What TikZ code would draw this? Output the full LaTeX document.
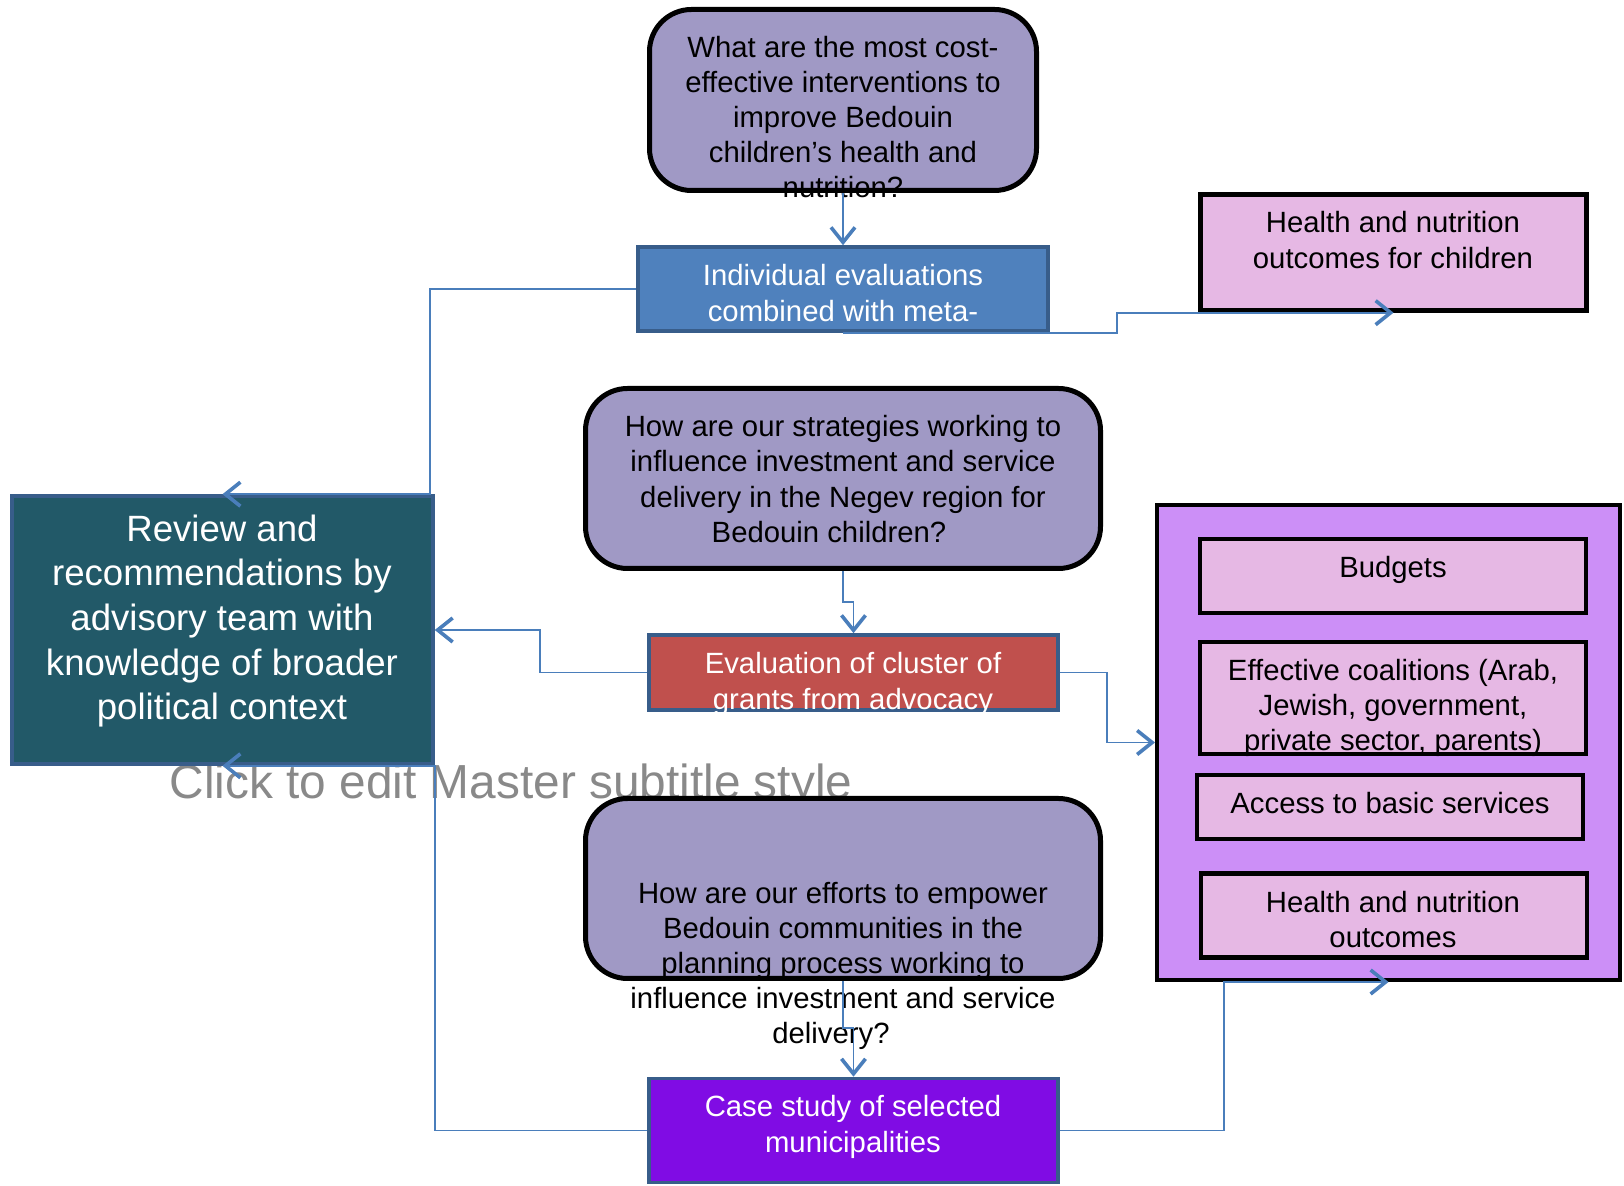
\documentclass[tikz,border=0pt]{standalone}
\usepackage{fontspec}
\setmainfont{Liberation Sans}
\usetikzlibrary{arrows.meta}

\definecolor{qfill}{RGB}{160,153,197}
\definecolor{pinkfill}{RGB}{230,184,228}
\definecolor{bigfill}{RGB}{204,143,247}
\definecolor{indivfill}{RGB}{79,129,189}
\definecolor{evalfill}{RGB}{192,80,77}
\definecolor{casefill}{RGB}{128,12,228}
\definecolor{reviewfill}{RGB}{34,89,104}
\definecolor{edgeblue}{RGB}{56,93,138}
\definecolor{connblue}{RGB}{74,126,187}
\definecolor{mastergray}{RGB}{137,137,137}

\newcommand{\boxfont}{\fontsize{14.65pt}{17.6pt}\selectfont}
\newcommand{\reviewfont}{\fontsize{18.3pt}{22.35pt}\selectfont}
\newcommand{\masterfont}{\fontsize{23.9pt}{28pt}\selectfont}

\begin{document}
\begin{tikzpicture}[x=0.5pt,y=-0.5pt,
    qbox/.style={draw=black, line width=2.5pt, rounded corners=21pt, fill=qfill,
      inner sep=0pt, minimum width=257.5pt, minimum height=90pt},
    pbox/.style={draw=black, line width=2.2pt, fill=pinkfill, inner sep=0pt,
      minimum width=193pt},
    bbox/.style={draw=edgeblue, line width=1.8pt, inner sep=0pt,
      minimum width=204.5pt},
    txt/.style={align=center, font=\boxfont, inner sep=0pt},
    wtxt/.style={txt, text=white},
    conn/.style={draw=connblue, line width=0.9pt,
      -{Straight Barb[length=7.5pt,width=12pt,line width=1.8pt]}}]
  \useasboundingbox (0,0) rectangle (1624,1186);

  % placeholder text, behind everything
  \node[text=mastergray, font=\masterfont, inner sep=0pt] (master) at (511,786)
    {Click to edit Master subtitle style};

  % left column
  \node[bbox, fill=reviewfill, minimum width=210.5pt, minimum height=134pt]
    (review) at (222.5,630) {};

  % middle column
  \node[qbox, minimum width=193.5pt, minimum height=90.5pt] (q1) at (843,100) {};
  \node[bbox, fill=indivfill, minimum width=205pt, minimum height=42pt]
    (indiv) at (843,289) {};
  \node[qbox] (q2) at (843,478.5) {};
  \node[bbox, fill=evalfill, minimum height=37.5pt] (eval) at (853.5,672.5) {};
  \node[qbox] (q3) at (843,888.5) {};
  \node[bbox, fill=casefill, minimum height=52pt] (case) at (853.5,1130.5) {};

  % right column
  \node[pbox, minimum height=58pt] (htop) at (1393.5,252.5) {};
  \node[draw=black, line width=2pt, fill=bigfill, inner sep=0pt,
    minimum width=231.5pt, minimum height=237.5pt] (big) at (1388.5,742.5) {};
  \node[pbox, minimum height=37pt] (budgets) at (1393,576) {};
  \node[pbox, minimum height=56pt] (coal) at (1393,698) {};
  \node[pbox, minimum height=32pt] (access) at (1390,807) {};
  \node[pbox, minimum height=42pt] (hout) at (1394,915.5) {};

  % texts
  \node[txt] (q1t) at (843,117) {What are the most cost-\\effective interventions to\\improve Bedouin\\children’s health and\\nutrition?};
  \node[wtxt] (indivt) at (843,293) {Individual evaluations\\combined with meta-};
  \node[txt] (htopt) at (1393,240) {Health and nutrition\\outcomes for children};
  \node[txt] (q2t) at (843,479) {How are our strategies working to\\influence investment and service\\delivery in the Negev region for\\Bedouin children?\hspace*{14pt}};
  \node[wtxt, font=\reviewfont] (reviewt) at (222,621) {Review and\\recommendations by\\advisory team with\\knowledge of broader\\political context};
  \node[wtxt] (evalt) at (853,684) {Evaluation of cluster of\\grants from advocacy};
  \node[txt] (budgetst) at (1393,570) {Budgets};
  \node[txt] (coalt) at (1393,708) {Effective coalitions (Arab,\\Jewish, government,\\private sector, parents)};
  \node[txt] (accesst) at (1390,803) {Access to basic services};
  \node[txt] (houtt) at (1393,919.5) {Health and nutrition\\outcomes};
  \node[txt] (q3t) at (843,966) {How are our efforts to empower\\Bedouin communities in the\\planning process working to\\influence investment and service\\delivery?\hspace*{12pt}};
  \node[wtxt] (caset) at (853,1127) {Case study of selected\\municipalities};

  % connectors
  \draw[conn] (q1.south) -- (indiv.north);
  \draw[conn] (indiv.south) -- ++(274,0) |- (htop.south);
  \draw[conn] (indiv.west) -- ++(-206,0) |- (review.north);
  \draw[conn] (q2.south) -- ++(0,31) -| (eval.north);
  \draw[conn] (eval.west) -- ++(-107,0) |- (review.east);
  \draw[conn] (eval.east) -- ++(47,0) |- (big.west);
  \draw[conn] (q3.south) -- ++(0,47) -| (case.north);
  \draw[conn] (case.west) -- ++(-212,0) |- (review.south);
  \draw[conn] (case.east) -- ++(164,0) |- (big.south);
\end{tikzpicture}
\end{document}
